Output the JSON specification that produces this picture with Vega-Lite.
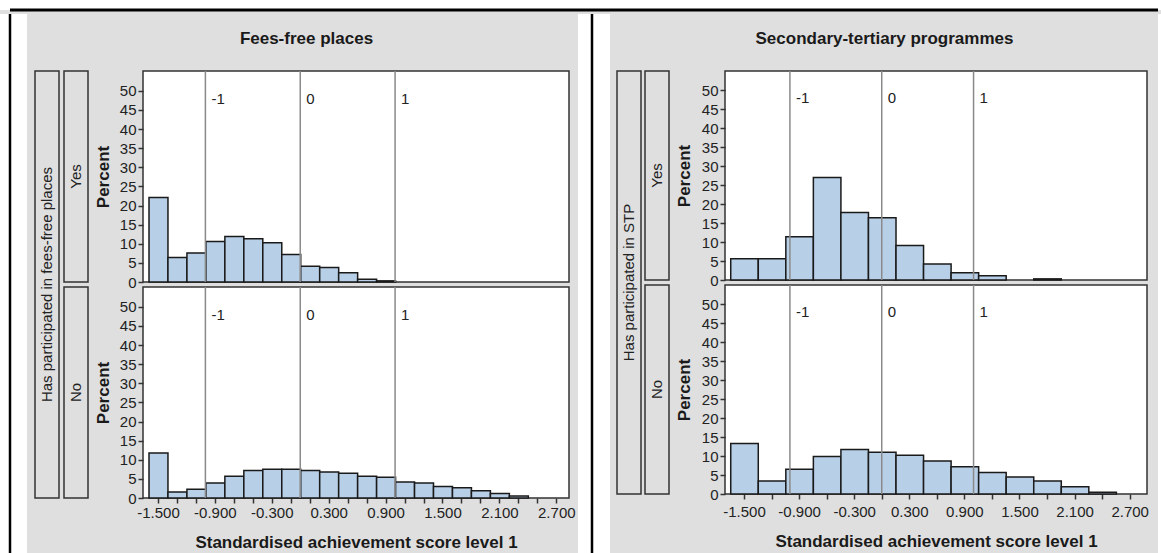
{
  "$schema": "https://vega.github.io/schema/vega-lite/v6.json",
  "padding": 0,
  "background": "#dfdfdf",
  "spacing": 0,
  "config": {
    "view": {"stroke": null},
    "font": "Liberation Sans",
    "axis": {"labelFont": "Liberation Sans", "titleFont": "Liberation Sans", "grid": false, "domain": false, "labelFlush": false, "labelOverlap": false, "labelBound": false, "tickSize": 5, "tickColor": "#333", "tickWidth": 1.5, "labelFontSize": 15, "labelColor": "#222", "labelPadding": 2, "titleFontSize": 17, "titleFontWeight": "bold", "titleColor": "#1a1a1a"}
  },
  "datasets": {
    "ffp_yes": [
      {"bin_start": -1.6, "bin_end": -1.4, "pct": 22.1},
      {"bin_start": -1.4, "bin_end": -1.2, "pct": 6.4},
      {"bin_start": -1.2, "bin_end": -1.0, "pct": 7.6},
      {"bin_start": -1.0, "bin_end": -0.8, "pct": 10.6},
      {"bin_start": -0.8, "bin_end": -0.6, "pct": 11.9},
      {"bin_start": -0.6, "bin_end": -0.4, "pct": 11.3},
      {"bin_start": -0.4, "bin_end": -0.2, "pct": 10.3},
      {"bin_start": -0.2, "bin_end": 0.0, "pct": 7.2},
      {"bin_start": 0.0, "bin_end": 0.2, "pct": 4.1},
      {"bin_start": 0.2, "bin_end": 0.4, "pct": 3.8},
      {"bin_start": 0.4, "bin_end": 0.6, "pct": 2.4},
      {"bin_start": 0.6, "bin_end": 0.8, "pct": 0.7},
      {"bin_start": 0.8, "bin_end": 1.0, "pct": 0.3}
    ],
    "ffp_no": [
      {"bin_start": -1.6, "bin_end": -1.4, "pct": 11.8},
      {"bin_start": -1.4, "bin_end": -1.2, "pct": 1.6},
      {"bin_start": -1.2, "bin_end": -1.0, "pct": 2.3},
      {"bin_start": -1.0, "bin_end": -0.8, "pct": 3.9},
      {"bin_start": -0.8, "bin_end": -0.6, "pct": 5.7},
      {"bin_start": -0.6, "bin_end": -0.4, "pct": 7.2},
      {"bin_start": -0.4, "bin_end": -0.2, "pct": 7.5},
      {"bin_start": -0.2, "bin_end": 0.0, "pct": 7.5},
      {"bin_start": 0.0, "bin_end": 0.2, "pct": 7.2},
      {"bin_start": 0.2, "bin_end": 0.4, "pct": 6.8},
      {"bin_start": 0.4, "bin_end": 0.6, "pct": 6.5},
      {"bin_start": 0.6, "bin_end": 0.8, "pct": 5.7},
      {"bin_start": 0.8, "bin_end": 1.0, "pct": 5.4},
      {"bin_start": 1.0, "bin_end": 1.2, "pct": 4.2},
      {"bin_start": 1.2, "bin_end": 1.4, "pct": 3.9},
      {"bin_start": 1.4, "bin_end": 1.6, "pct": 3.0},
      {"bin_start": 1.6, "bin_end": 1.8, "pct": 2.7},
      {"bin_start": 1.8, "bin_end": 2.0, "pct": 1.9},
      {"bin_start": 2.0, "bin_end": 2.2, "pct": 1.2},
      {"bin_start": 2.2, "bin_end": 2.4, "pct": 0.5}
    ],
    "stp_yes": [
      {"bin_start": -1.65, "bin_end": -1.35, "pct": 5.6},
      {"bin_start": -1.35, "bin_end": -1.05, "pct": 5.6},
      {"bin_start": -1.05, "bin_end": -0.75, "pct": 11.4},
      {"bin_start": -0.75, "bin_end": -0.45, "pct": 27.0},
      {"bin_start": -0.45, "bin_end": -0.15, "pct": 17.8},
      {"bin_start": -0.15, "bin_end": 0.15, "pct": 16.4},
      {"bin_start": 0.15, "bin_end": 0.45, "pct": 9.1},
      {"bin_start": 0.45, "bin_end": 0.75, "pct": 4.2},
      {"bin_start": 0.75, "bin_end": 1.05, "pct": 1.9},
      {"bin_start": 1.05, "bin_end": 1.35, "pct": 1.1},
      {"bin_start": 1.65, "bin_end": 1.95, "pct": 0.3}
    ],
    "stp_no": [
      {"bin_start": -1.65, "bin_end": -1.35, "pct": 13.3},
      {"bin_start": -1.35, "bin_end": -1.05, "pct": 3.4},
      {"bin_start": -1.05, "bin_end": -0.75, "pct": 6.5},
      {"bin_start": -0.75, "bin_end": -0.45, "pct": 9.9},
      {"bin_start": -0.45, "bin_end": -0.15, "pct": 11.7},
      {"bin_start": -0.15, "bin_end": 0.15, "pct": 11.0},
      {"bin_start": 0.15, "bin_end": 0.45, "pct": 10.2},
      {"bin_start": 0.45, "bin_end": 0.75, "pct": 8.7},
      {"bin_start": 0.75, "bin_end": 1.05, "pct": 7.2},
      {"bin_start": 1.05, "bin_end": 1.35, "pct": 5.7},
      {"bin_start": 1.35, "bin_end": 1.65, "pct": 4.5},
      {"bin_start": 1.65, "bin_end": 1.95, "pct": 3.4},
      {"bin_start": 1.95, "bin_end": 2.25, "pct": 1.9},
      {"bin_start": 2.25, "bin_end": 2.55, "pct": 0.45}
    ],
    "refs": [
      {"ref": -1, "label": "-1"},
      {"ref": 0, "label": "0"},
      {"ref": 1, "label": "1"}
    ],
    "one": [{"k": 1}]
  },
  "vconcat": [
    {
      "width": 1161, "height": 10,
      "view": {"fill": "white", "stroke": null},
      "data": {"name": "one"},
      "mark": {"type": "rule", "color": "black", "strokeWidth": 3},
      "encoding": {
        "x": {"datum": 10, "type": "quantitative", "scale": {"domain": [0, 1161], "nice": false, "zero": false}, "axis": null},
        "x2": {"datum": 1158},
        "y": {"datum": 0, "type": "quantitative", "scale": {"domain": [0, 10], "nice": false}, "axis": null}
      }
    },
    {
      "spacing": 0,
      "hconcat": [
        {
          "width": 27, "height": 543,
          "view": {"fill": "white", "stroke": null},
          "data": {"name": "one"},
          "mark": {"type": "rule", "color": "black", "strokeWidth": 2.5},
          "encoding": {"x": {"datum": 10, "type": "quantitative", "scale": {"domain": [0, 27], "nice": false, "zero": false}, "axis": null}}
        },
        {
          "width": 7, "height": 543,
          "data": {"name": "one"},
          "mark": {"type": "text", "text": ""},
          "encoding": {}
        },
        {
          "spacing": 0,
          "vconcat": [
            {
              "width": 543, "height": 55,
              "data": {"values": [{"t": "Fees-free places"}]},
              "mark": {"type": "text", "fontSize": 17, "fontWeight": "bold", "color": "#1a1a1a", "dy": -3},
              "encoding": {"text": {"field": "t"}}
            },
            {
              "spacing": 4,
              "hconcat": [
                {
                  "spacing": 3,
                  "hconcat": [
                    {
                      "width": 24, "height": 427,
                      "view": {"stroke": "#333", "strokeWidth": 1.5},
                      "data": {"values": [{"label": "Has participated in fees-free places"}]},
                      "mark": {"type": "text", "angle": 270, "fontSize": 15, "color": "#222"},
                      "encoding": {"text": {"field": "label"}}
                    },
                    {
                      "spacing": 5,
                      "bounds": "flush",
                      "vconcat": [
                        {
                          "width": 24, "height": 211,
                          "view": {"stroke": "#333", "strokeWidth": 1.5},
                          "data": {"values": [{"label": "Yes"}]},
                          "mark": {"type": "text", "angle": 270, "fontSize": 15, "color": "#222"},
                          "encoding": {"text": {"field": "label"}}
                        },
                        {
                          "width": 24, "height": 211,
                          "view": {"stroke": "#333", "strokeWidth": 1.5},
                          "data": {"values": [{"label": "No"}]},
                          "mark": {"type": "text", "angle": 270, "fontSize": 15, "color": "#222"},
                          "encoding": {"text": {"field": "label"}}
                        }
                      ]
                    }
                  ]
                },
                {
                  "spacing": 5,
                  "bounds": "flush",
                  "vconcat": [
                    {
                      "width": 426, "height": 211,
                      "view": {"fill": "white", "stroke": "#333", "strokeWidth": 1.5},
                      "layer": [
                        {
                          "data": {"name": "ffp_yes"},
                          "mark": {"type": "bar", "orient": "vertical", "binSpacing": 0, "fill": "#b8cfe8", "stroke": "#1a1a1a", "strokeWidth": 1.5},
                          "encoding": {
                            "x": {"field": "bin_start", "type": "quantitative", "bin": {"binned": true}, "scale": {"domain": [-1.658, 2.834], "nice": false, "zero": false}, "axis": null},
                            "x2": {"field": "bin_end"},
                            "y": {"field": "pct", "type": "quantitative", "scale": {"domain": [0, 55.2], "nice": false, "zero": true},
                              "axis": {"values": [0, 5, 10, 15, 20, 25, 30, 35, 40, 45, 50], "tickCount": 100, "format": "d", "title": "Percent", "titlePadding": 7, "labelOverlap": false}}
                          }
                        },
                        {
                          "data": {"name": "refs"},
                          "mark": {"type": "rule", "color": "#8a8a8a", "strokeWidth": 1.5},
                          "encoding": {"x": {"field": "ref", "type": "quantitative"}}
                        },
                        {
                          "data": {"name": "refs"},
                          "mark": {"type": "text", "align": "left", "baseline": "middle", "dx": 6, "fontSize": 15, "color": "#222"},
                          "encoding": {
                            "x": {"field": "ref", "type": "quantitative"},
                            "y": {"datum": 48, "type": "quantitative"},
                            "text": {"field": "label"}
                          }
                        }
                      ]
                    },
                    {
                      "width": 426, "height": 211,
                      "view": {"fill": "white", "stroke": "#333", "strokeWidth": 1.5},
                      "layer": [
                        {
                          "data": {"name": "ffp_no"},
                          "mark": {"type": "bar", "orient": "vertical", "binSpacing": 0, "fill": "#b8cfe8", "stroke": "#1a1a1a", "strokeWidth": 1.5},
                          "encoding": {
                            "x": {"field": "bin_start", "type": "quantitative", "bin": {"binned": true}, "scale": {"domain": [-1.658, 2.834], "nice": false, "zero": false},
                              "axis": {"values": [-1.5, -1.3, -1.1, -0.9, -0.7, -0.5, -0.3, -0.1, 0.1, 0.3, 0.5, 0.7, 0.9, 1.1, 1.3, 1.5, 1.7, 1.9, 2.1, 2.3, 2.5, 2.7], "tickCount": 100,
                                "labelExpr": "round((datum.value + 1.5) * 5) % 3 == 0 ? replace(format(datum.value, '.3f'), '\u2212', '-') : ''",
                                "title": "Standardised achievement score level 1", "titlePadding": 14, "labelOverlap": false}},
                            "x2": {"field": "bin_end"},
                            "y": {"field": "pct", "type": "quantitative", "scale": {"domain": [0, 55.2], "nice": false, "zero": true},
                              "axis": {"values": [0, 5, 10, 15, 20, 25, 30, 35, 40, 45, 50], "tickCount": 100, "format": "d", "title": "Percent", "titlePadding": 7, "labelOverlap": false}}
                          }
                        },
                        {
                          "data": {"name": "refs"},
                          "mark": {"type": "rule", "color": "#8a8a8a", "strokeWidth": 1.5},
                          "encoding": {"x": {"field": "ref", "type": "quantitative"}}
                        },
                        {
                          "data": {"name": "refs"},
                          "mark": {"type": "text", "align": "left", "baseline": "middle", "dx": 6, "fontSize": 15, "color": "#222"},
                          "encoding": {
                            "x": {"field": "ref", "type": "quantitative"},
                            "y": {"datum": 48, "type": "quantitative"},
                            "text": {"field": "label"}
                          }
                        }
                      ]
                    }
                  ]
                }
              ]
            }
          ]
        },
        {
          "width": 32, "height": 543,
          "view": {"fill": "white", "stroke": null},
          "data": {"name": "one"},
          "mark": {"type": "rule", "color": "black", "strokeWidth": 2.5},
          "encoding": {"x": {"datum": 14, "type": "quantitative", "scale": {"domain": [0, 32], "nice": false, "zero": false}, "axis": null}}
        },
        {
          "width": 6, "height": 543,
          "data": {"name": "one"},
          "mark": {"type": "text", "text": ""},
          "encoding": {}
        },
        {
          "spacing": 0,
          "vconcat": [
            {
              "width": 535, "height": 55,
              "data": {"values": [{"t": "Secondary-tertiary programmes"}]},
              "mark": {"type": "text", "fontSize": 17, "fontWeight": "bold", "color": "#1a1a1a", "dy": -3},
              "encoding": {"text": {"field": "t"}}
            },
            {
              "spacing": 4,
              "hconcat": [
                {
                  "spacing": 2,
                  "hconcat": [
                    {
                      "width": 24, "height": 423,
                      "view": {"stroke": "#333", "strokeWidth": 1.5},
                      "data": {"values": [{"label": "Has participated in STP"}]},
                      "mark": {"type": "text", "angle": 270, "fontSize": 15, "color": "#222"},
                      "encoding": {"text": {"field": "label"}}
                    },
                    {
                      "spacing": 5,
                      "bounds": "flush",
                      "vconcat": [
                        {
                          "width": 24, "height": 209,
                          "view": {"stroke": "#333", "strokeWidth": 1.5},
                          "data": {"values": [{"label": "Yes"}]},
                          "mark": {"type": "text", "angle": 270, "fontSize": 15, "color": "#222"},
                          "encoding": {"text": {"field": "label"}}
                        },
                        {
                          "width": 24, "height": 209,
                          "view": {"stroke": "#333", "strokeWidth": 1.5},
                          "data": {"values": [{"label": "No"}]},
                          "mark": {"type": "text", "angle": 270, "fontSize": 15, "color": "#222"},
                          "encoding": {"text": {"field": "label"}}
                        }
                      ]
                    }
                  ]
                },
                {
                  "spacing": 5,
                  "bounds": "flush",
                  "vconcat": [
                    {
                      "width": 422, "height": 209,
                      "view": {"fill": "white", "stroke": "#333", "strokeWidth": 1.5},
                      "layer": [
                        {
                          "data": {"name": "stp_yes"},
                          "mark": {"type": "bar", "orient": "vertical", "binSpacing": 0, "fill": "#b8cfe8", "stroke": "#1a1a1a", "strokeWidth": 1.5},
                          "encoding": {
                            "x": {"field": "bin_start", "type": "quantitative", "bin": {"binned": true}, "scale": {"domain": [-1.707, 2.889], "nice": false, "zero": false}, "axis": null},
                            "x2": {"field": "bin_end"},
                            "y": {"field": "pct", "type": "quantitative", "scale": {"domain": [0, 55.1], "nice": false, "zero": true},
                              "axis": {"values": [0, 5, 10, 15, 20, 25, 30, 35, 40, 45, 50], "tickCount": 100, "format": "d", "title": "Percent", "titlePadding": 8, "labelOverlap": false}}
                          }
                        },
                        {
                          "data": {"name": "refs"},
                          "mark": {"type": "rule", "color": "#8a8a8a", "strokeWidth": 1.5},
                          "encoding": {"x": {"field": "ref", "type": "quantitative"}}
                        },
                        {
                          "data": {"name": "refs"},
                          "mark": {"type": "text", "align": "left", "baseline": "middle", "dx": 6, "fontSize": 15, "color": "#222"},
                          "encoding": {
                            "x": {"field": "ref", "type": "quantitative"},
                            "y": {"datum": 48, "type": "quantitative"},
                            "text": {"field": "label"}
                          }
                        }
                      ]
                    },
                    {
                      "width": 422, "height": 209,
                      "view": {"fill": "white", "stroke": "#333", "strokeWidth": 1.5},
                      "layer": [
                        {
                          "data": {"name": "stp_no"},
                          "mark": {"type": "bar", "orient": "vertical", "binSpacing": 0, "fill": "#b8cfe8", "stroke": "#1a1a1a", "strokeWidth": 1.5},
                          "encoding": {
                            "x": {"field": "bin_start", "type": "quantitative", "bin": {"binned": true}, "scale": {"domain": [-1.707, 2.889], "nice": false, "zero": false},
                              "axis": {"values": [-1.5, -1.2, -0.9, -0.6, -0.3, 0, 0.3, 0.6, 0.9, 1.2, 1.5, 1.8, 2.1, 2.4, 2.7], "tickCount": 100,
                                "labelExpr": "round((datum.value + 1.5) / 0.3) % 2 == 0 ? replace(format(datum.value, '.3f'), '\u2212', '-') : ''",
                                "title": "Standardised achievement score level 1", "labelPadding": 5, "titlePadding": 14, "labelOverlap": false}},
                            "x2": {"field": "bin_end"},
                            "y": {"field": "pct", "type": "quantitative", "scale": {"domain": [0, 55.1], "nice": false, "zero": true},
                              "axis": {"values": [0, 5, 10, 15, 20, 25, 30, 35, 40, 45, 50], "tickCount": 100, "format": "d", "title": "Percent", "titlePadding": 8, "labelOverlap": false}}
                          }
                        },
                        {
                          "data": {"name": "refs"},
                          "mark": {"type": "rule", "color": "#8a8a8a", "strokeWidth": 1.5},
                          "encoding": {"x": {"field": "ref", "type": "quantitative"}}
                        },
                        {
                          "data": {"name": "refs"},
                          "mark": {"type": "text", "align": "left", "baseline": "middle", "dx": 6, "fontSize": 15, "color": "#222"},
                          "encoding": {
                            "x": {"field": "ref", "type": "quantitative"},
                            "y": {"datum": 48, "type": "quantitative"},
                            "text": {"field": "label"}
                          }
                        }
                      ]
                    }
                  ]
                }
              ]
            }
          ]
        },
        {
          "width": 6, "height": 543,
          "data": {"name": "one"},
          "mark": {"type": "text", "text": ""},
          "encoding": {}
        },
        {
          "width": 5, "height": 543,
          "view": {"fill": "white", "stroke": null},
          "data": {"name": "one"},
          "mark": {"type": "text", "text": ""},
          "encoding": {}
        }
      ]
    }
  ]
}
